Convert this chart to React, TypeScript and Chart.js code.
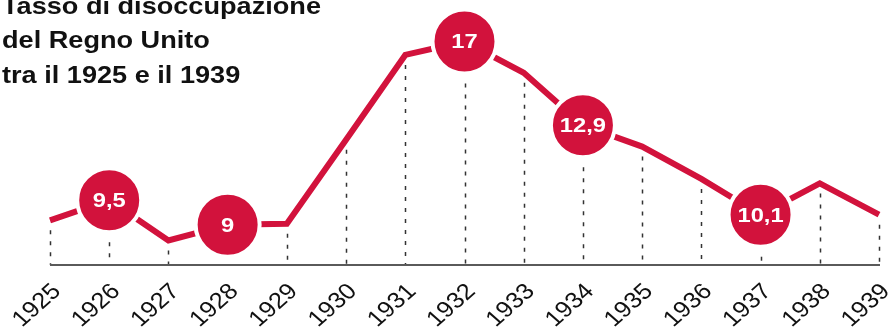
import React, { useEffect, useRef } from "react";
import { Chart, registerables } from "chart.js";

Chart.register(...registerables);

const titleLines = ["Tasso di disoccupazione", "del Regno Unito", "tra il 1925 e il 1939"];
const years = ["1925", "1926", "1927", "1928", "1929", "1930", "1931", "1932", "1933", "1934", "1935", "1936", "1937", "1938", "1939"];
// values as drawn (infographic height of each point)
const values = [9.0, 9.9, 8.1, 8.8, 8.85, 12.6, 16.4, 17.0, 15.6, 13.25, 12.3, 10.85, 9.25, 10.65, 9.25];
// printed bubble labels
const bubbleLabels = ["", "9,5", "", "9", "", "", "", "17", "", "12,9", "", "", "10,1", "", ""];

const RED = "#d2123c";
const STRETCH = 1.13;

export default function App() {
  const ref = useRef<HTMLCanvasElement | null>(null);

  useEffect(() => {
    document.body.style.margin = "0";
    const canvas = ref.current;
    if (!canvas) return;

    const overlay = {
      id: "overlay",
      beforeDatasetsDraw(chart: any) {
        const ctx = chart.ctx;
        const xs = chart.scales.x;
        const ys = chart.scales.y;
        const bottom = chart.chartArea.bottom;
        ctx.save();
        // dashed drop lines
        ctx.strokeStyle = "#333";
        ctx.lineWidth = 1.5;
        ctx.setLineDash([4, 7]);
        values.forEach((v, i) => {
          const x = Math.round(xs.getPixelForValue(i)) + 0.5;
          const y = ys.getPixelForValue(v);
          const start = y + (bubbleLabels[i] ? 42 : 10);
          if (start < bottom) {
            ctx.beginPath();
            ctx.moveTo(x, start);
            ctx.lineTo(x, bottom);
            ctx.stroke();
          }
        });
        ctx.setLineDash([]);
        // baseline
        ctx.strokeStyle = "#5a5a5a";
        ctx.lineWidth = 2;
        ctx.beginPath();
        ctx.moveTo(chart.chartArea.left, bottom);
        ctx.lineTo(chart.chartArea.right + 1, bottom);
        ctx.stroke();
        // x labels
        ctx.fillStyle = "#111";
        ctx.font = '22.5px "Liberation Sans", Arial, sans-serif';
        ctx.textAlign = "right";
        ctx.textBaseline = "middle";
        years.forEach((yr, i) => {
          const x = xs.getPixelForValue(i);
          ctx.save();
          ctx.translate(x + 7, bottom + 23);
          ctx.scale(STRETCH, 1);
          ctx.rotate(-Math.PI / 4);
          ctx.fillText(yr, 0, 0);
          ctx.restore();
        });
        ctx.restore();
      },
      afterDatasetsDraw(chart: any) {
        const ctx = chart.ctx;
        const meta = chart.getDatasetMeta(0);
        ctx.save();
        ctx.fillStyle = "#ffffff";
        ctx.font = 'bold 21px "Liberation Sans", Arial, sans-serif';
        ctx.textAlign = "center";
        ctx.textBaseline = "middle";
        meta.data.forEach((pt: any, i: number) => {
          const t = bubbleLabels[i];
          if (!t) return;
          ctx.save();
          ctx.translate(pt.x, pt.y + 1);
          ctx.scale(STRETCH, 1);
          ctx.fillText(t, 0, 0);
          ctx.restore();
        });
        // title
        ctx.fillStyle = "#111";
        ctx.font = 'bold 24px "Liberation Sans", Arial, sans-serif';
        ctx.textAlign = "left";
        ctx.textBaseline = "alphabetic";
        const baselines = [14, 48, 83];
        titleLines.forEach((line, i) => {
          ctx.save();
          ctx.translate(2, baselines[i]);
          ctx.scale(1.13, 1);
          ctx.fillText(line, 0, 0);
          ctx.restore();
        });
        ctx.restore();
      },
    };

    const chart = new Chart(canvas, {
      type: "line",
      data: {
        labels: years,
        datasets: [
          {
            data: values,
            borderColor: RED,
            borderWidth: 6,
            tension: 0,
            fill: false,
            pointRadius: bubbleLabels.map((l) => (l ? 32 : 0)),
            pointHoverRadius: bubbleLabels.map((l) => (l ? 32 : 0)),
            pointBackgroundColor: RED,
            pointBorderColor: "#ffffff",
            pointBorderWidth: 4,
            pointHoverBorderWidth: 4,
          },
        ],
      },
      options: {
        responsive: false,
        animation: false,
        events: [],
        layout: { padding: { left: 50, right: 11, top: 8, bottom: 68 } },
        plugins: {
          legend: { display: false },
          tooltip: { enabled: false },
          title: { display: false },
        },
        scales: {
          x: { type: "category", display: false, offset: false },
          y: { display: false, min: 7, max: 18.5 },
        },
      },
      plugins: [overlay],
    });

    return () => chart.destroy();
  }, []);

  return (
    <div style={{ width: 890, height: 333, background: "#fff" }}>
      <canvas ref={ref} width={890} height={333} style={{ display: "block" }} />
    </div>
  );
}
